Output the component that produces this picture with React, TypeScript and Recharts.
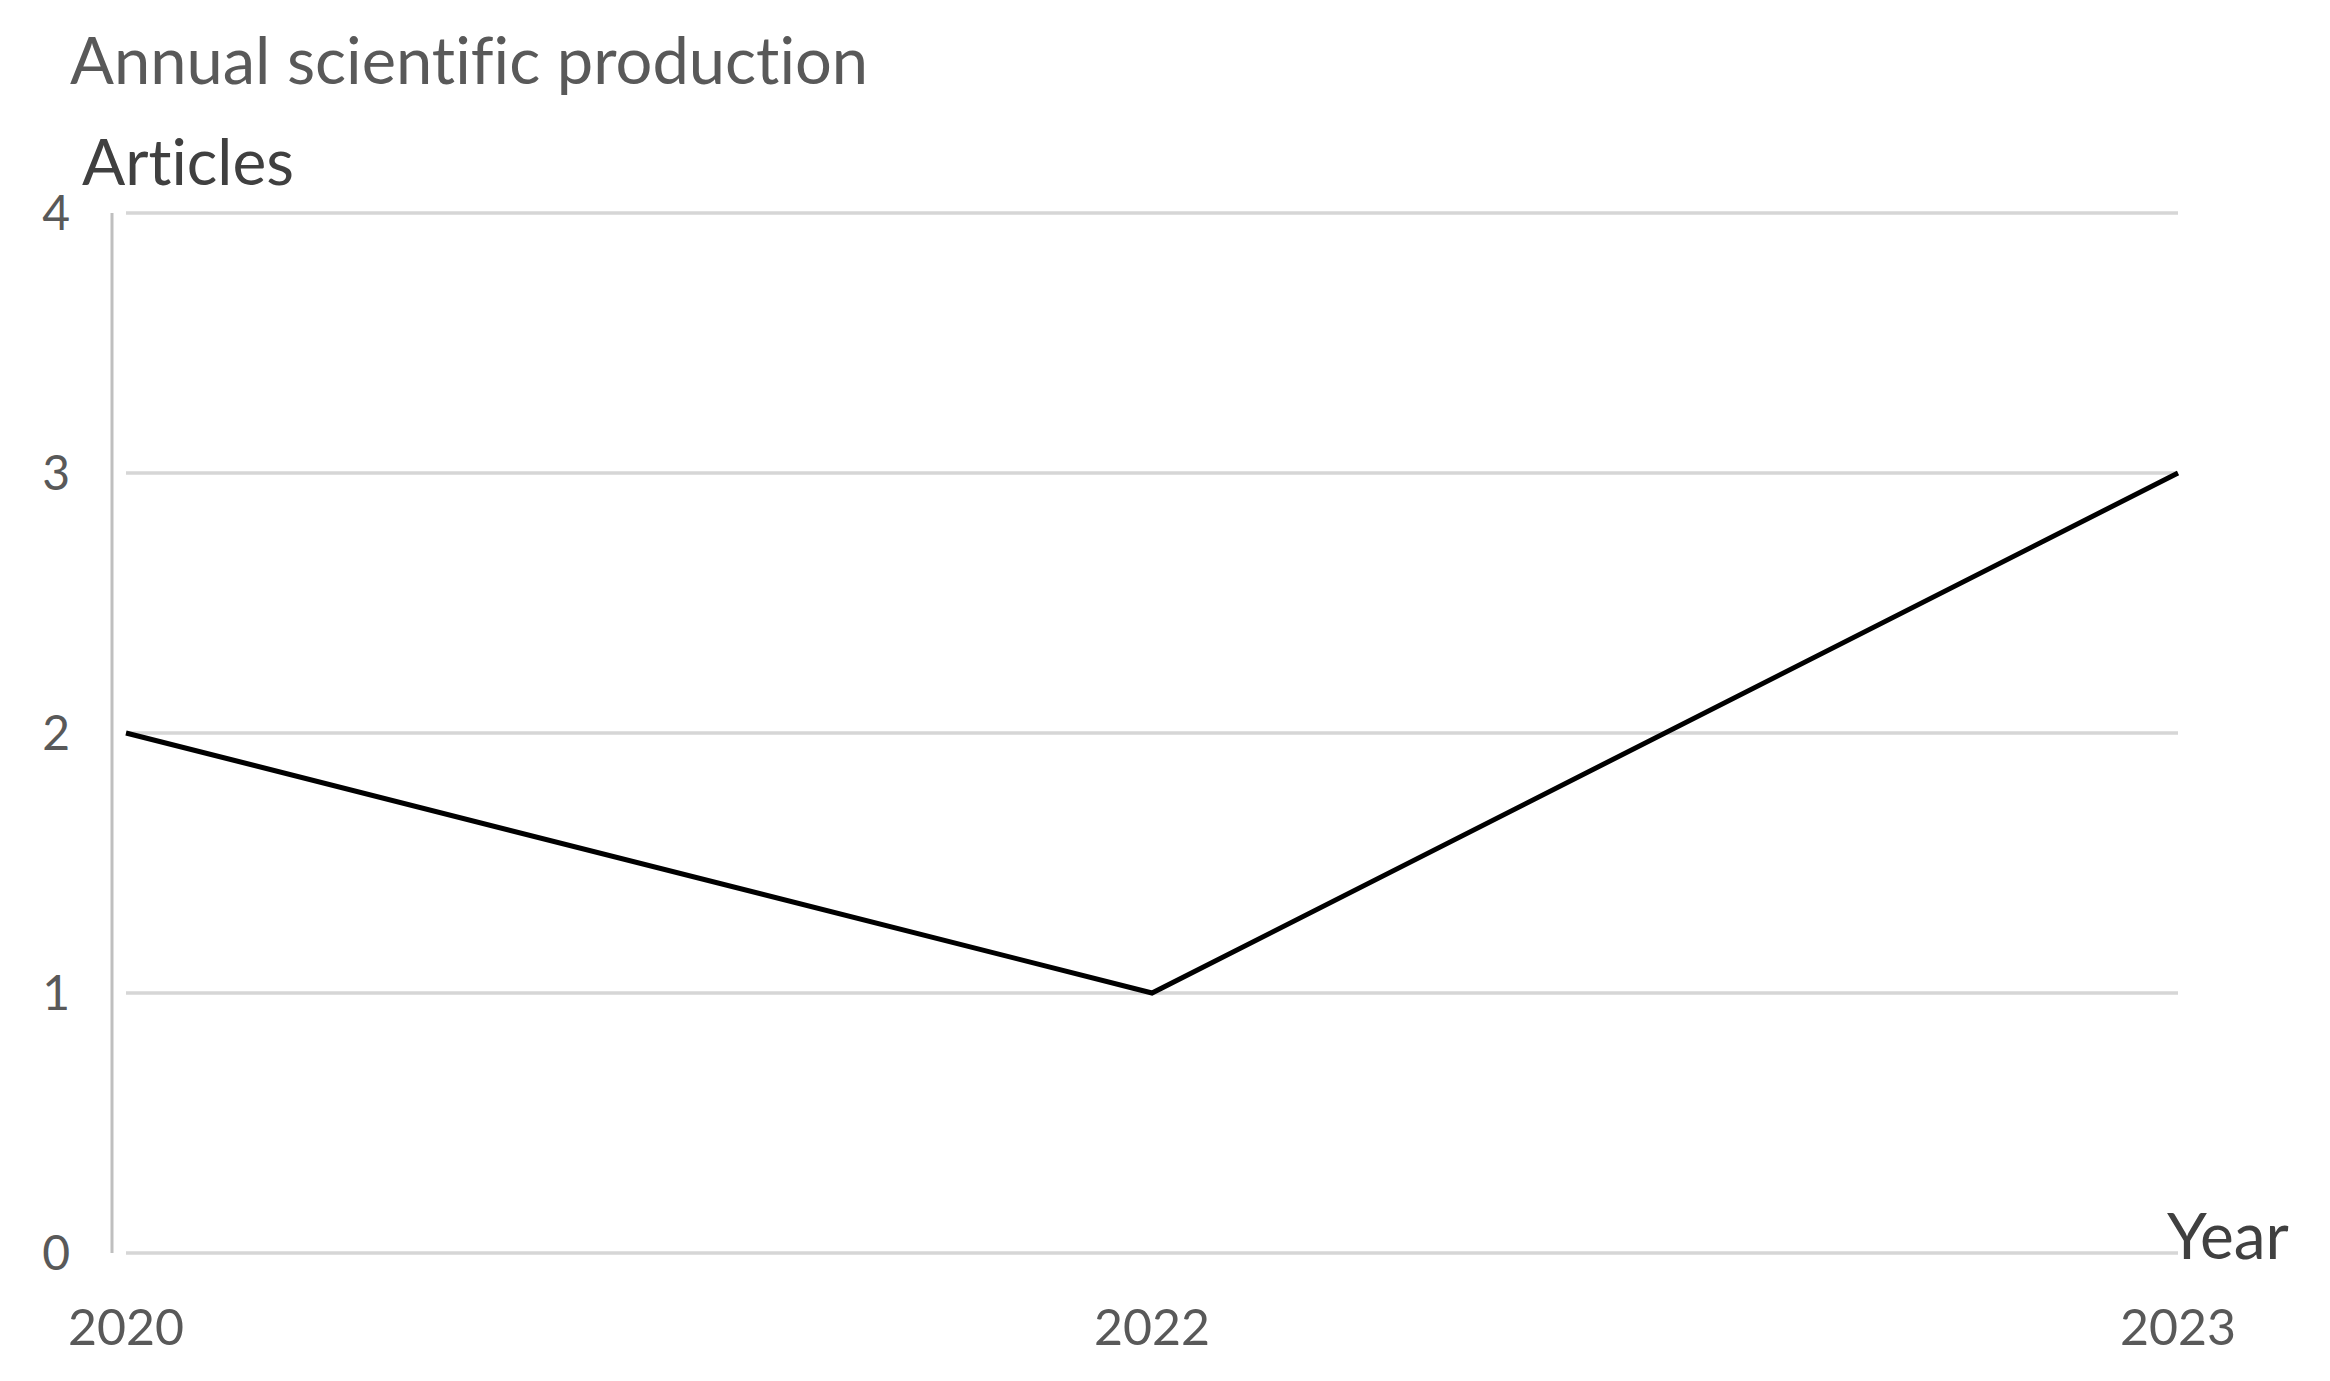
import { LineChart, Line, XAxis, YAxis, CartesianGrid } from 'recharts';

const years = ['2020', '2022', '2023'];
const articles = [2, 1, 3];
const yTicks = [0, 1, 2, 3, 4];

const chartData = years.map((year, i) => ({ year, articles: articles[i] }));

const font = 'Lato, "Open Sans", sans-serif';

const App = () => {
  return (
    <div style={{ position: 'absolute', left: 0, top: 0, width: 2330, height: 1381, background: '#fff', fontFamily: font, fontVariantLigatures: 'none' }}>
      <div style={{ position: 'absolute', left: 70, top: 27, fontSize: 65, lineHeight: 1, color: '#595959', whiteSpace: 'nowrap' }}>
        Annual scientific production
      </div>
      <div style={{ position: 'absolute', left: 82, top: 129, fontSize: 64, lineHeight: 1, color: '#404040', whiteSpace: 'nowrap' }}>
        Articles
      </div>
      <div style={{ position: 'absolute', left: 2167, top: 1203, fontSize: 64, lineHeight: 1, color: '#404040', whiteSpace: 'nowrap' }}>
        Year
      </div>
      <LineChart width={2330} height={1381} data={chartData} margin={{ top: 213, right: 152, bottom: 8, left: 8 }}>
        <CartesianGrid vertical={false} stroke="#d6d6d6" strokeWidth={3.5} yAxisId="main" />
        <XAxis
          dataKey="year"
          axisLine={false}
          tickLine={false}
          tickSize={0}
          tickMargin={56}
          height={120}
          tick={{ fill: '#595959', fontSize: 50, fontFamily: font }}
        />
        <YAxis yAxisId="gap" width={14} domain={[0, 4]} ticks={yTicks} axisLine={false} tickLine={false} tick={false} />
        <YAxis
          yAxisId="main"
          width={104}
          domain={[0, 4]}
          ticks={yTicks}
          axisLine={{ stroke: '#bfbfbf', strokeWidth: 3 }}
          tickLine={false}
          tickSize={0}
          tickMargin={42}
          tick={{ fill: '#595959', fontSize: 48, fontFamily: font }}
        />
        <Line
          yAxisId="main"
          type="linear"
          dataKey="articles"
          stroke="#000000"
          strokeWidth={5}
          dot={false}
          isAnimationActive={false}
        />
      </LineChart>
    </div>
  );
};

export default App;
